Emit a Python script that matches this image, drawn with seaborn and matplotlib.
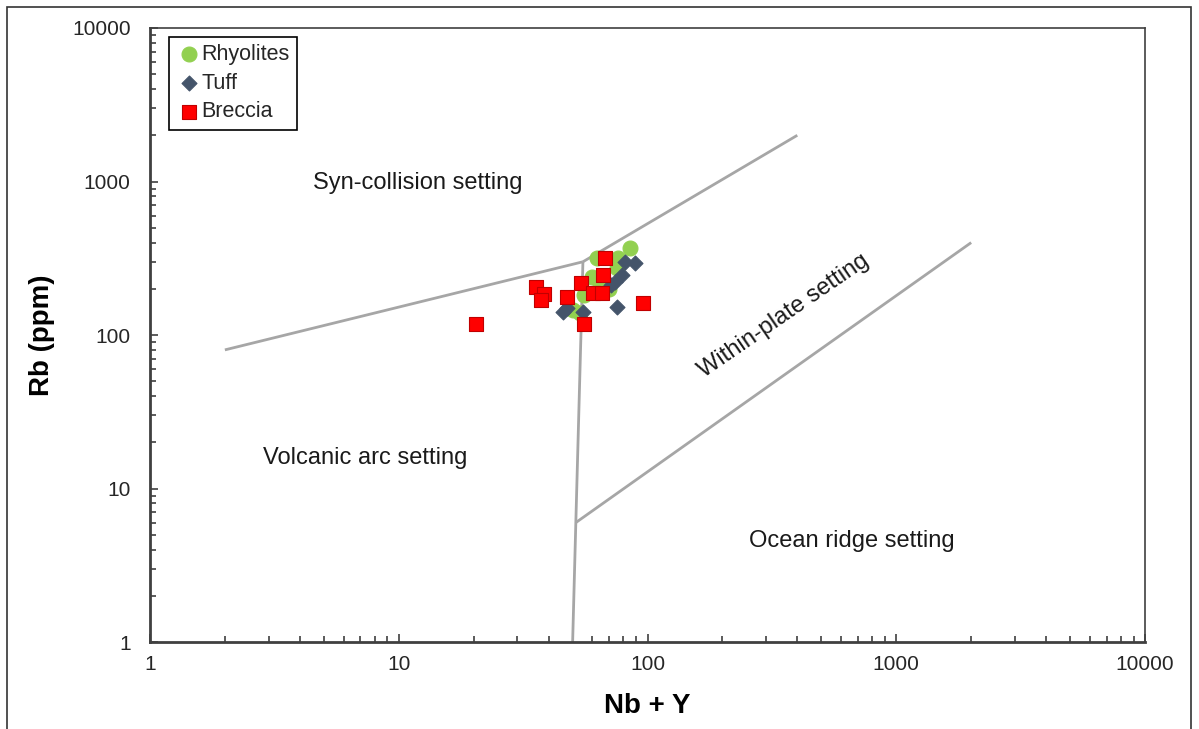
import matplotlib
matplotlib.use("Agg")
import matplotlib.pyplot as plt
import seaborn as sns
import pandas as pd
from matplotlib.patches import Rectangle

# Sample compositions (Nb+Y and Rb in ppm)
rhyolite_nby = [85.1, 62.7, 76.1, 75.4, 59.8, 64.0, 55.6, 50.2, 53.5, 70.0]
rhyolite_rb = [369, 318, 318, 273, 239, 225, 182, 145, 140, 200]
tuff_nby = [81.2, 89.1, 78.9, 74.0, 71.0, 75.4, 45.7, 47.5, 55.0]
tuff_rb = [299, 294, 246, 221, 212, 152, 141, 150, 141]
breccia_nby = [67.5, 66.2, 54.0, 35.6, 38.4, 37.3, 47.5, 60.4, 65.6, 55.6, 95.9, 20.4]
breccia_rb = [318, 246, 218, 205, 185, 169, 177, 188, 188, 118, 162, 118]

# Tectonic discrimination boundaries (Pearce et al. 1984)
boundary_syn_vag_x = [2, 55]
boundary_syn_vag_y = [80, 300]
boundary_syn_wpg_x = [55, 400]
boundary_syn_wpg_y = [300, 2000]
boundary_vag_org_x = [50, 51.5, 55]
boundary_vag_org_y = [1, 6, 300]
boundary_wpg_org_x = [51.5, 2000]
boundary_wpg_org_y = [6, 400]

sns.set_theme(style="white")
plt.rcParams["font.family"] = ["Liberation Sans", "DejaVu Sans"]

df = pd.DataFrame({
    "Nb + Y": rhyolite_nby + tuff_nby + breccia_nby,
    "Rb": rhyolite_rb + tuff_rb + breccia_rb,
    "Rock": (["Rhyolites"] * len(rhyolite_nby) + ["Tuff"] * len(tuff_nby)
             + ["Breccia"] * len(breccia_nby)),
})

fig = plt.figure(figsize=(11.99, 7.29), dpi=100)
ax = fig.add_axes([0.1251, 0.1193, 0.8299, 0.8423])

line_kw = dict(color="#a6a6a6", lw=2.0, zorder=1, solid_capstyle="butt")
for bx, by in [(boundary_syn_vag_x, boundary_syn_vag_y),
               (boundary_syn_wpg_x, boundary_syn_wpg_y),
               (boundary_vag_org_x, boundary_vag_org_y),
               (boundary_wpg_org_x, boundary_wpg_org_y)]:
    ax.plot(bx, by, **line_kw)

palette = {"Rhyolites": "#92d050", "Tuff": "#44546a", "Breccia": "#ff0000"}
markers = {"Rhyolites": "o", "Tuff": "D", "Breccia": "s"}
sizes = {"Rhyolites": 115, "Tuff": 58, "Breccia": 105}
edges = {"Rhyolites": "#92d050", "Tuff": "#44546a", "Breccia": "#c00000"}
for rock in ["Rhyolites", "Tuff", "Breccia"]:
    sub = df[df["Rock"] == rock]
    sns.scatterplot(data=sub, x="Nb + Y", y="Rb", ax=ax, color=palette[rock],
                    marker=markers[rock], s=sizes[rock], edgecolor=edges[rock],
                    linewidth=0.8, label=rock, zorder=3)

ax.set_xscale("log")
ax.set_yscale("log")
ax.set_xlim(1, 10000)
ax.set_ylim(1, 10000)
ax.set_xticks([1, 10, 100, 1000, 10000])
ax.set_xticklabels(["1", "10", "100", "1000", "10000"])
ax.set_yticks([1, 10, 100, 1000, 10000])
ax.set_yticklabels(["1", "10", "100", "1000", "10000"])
ax.tick_params(which="major", direction="in", length=6, width=1.2, color="#404040",
               labelsize=15, labelcolor="#262626")
ax.tick_params(axis="y", which="major", pad=14)
ax.tick_params(axis="x", which="major", pad=9)
ax.tick_params(which="minor", direction="in", length=4, width=1.2, color="#404040")
ax.tick_params(axis="x", which="both", bottom=True)
ax.tick_params(axis="y", which="both", left=True)

for side in ["left", "bottom"]:
    ax.spines[side].set_color("#404040")
    ax.spines[side].set_linewidth(2.0)
for side in ["top", "right"]:
    ax.spines[side].set_color("#404040")
    ax.spines[side].set_linewidth(1.2)

ax.set_xlabel("Nb + Y", fontsize=20, fontweight="bold", color="black", labelpad=14)
ax.set_ylabel("Rb (ppm)", fontsize=20, fontweight="bold", color="black", labelpad=12)

text_kw = dict(fontsize=17, color="#1a1a1a", ha="center", va="center")
ax.text(11.9, 977, "Syn-collision setting", **text_kw)
ax.text(7.3, 15.8, "Volcanic arc setting", **text_kw)
ax.text(664, 4.55, "Ocean ridge setting", **text_kw)
ax.text(354, 133, "Within-plate setting", rotation=34.5, **text_kw)

leg = ax.legend(loc="upper left", bbox_to_anchor=(0.015, 0.993), fontsize=15.5,
                frameon=True, fancybox=False, edgecolor="black", framealpha=1,
                handletextpad=0.05, labelspacing=0.35, borderpad=0.35,
                handlelength=1.1, borderaxespad=0.2, markerscale=1.0)
leg.get_frame().set_linewidth(1.2)

fig.patches.append(Rectangle((7 / 1199, -0.01), (1191 - 7) / 1199, 1 - 7 / 729 + 0.01,
                             transform=fig.transFigure, fill=False,
                             edgecolor="#333333", linewidth=1.2))

fig.savefig("out.png", dpi=100)
